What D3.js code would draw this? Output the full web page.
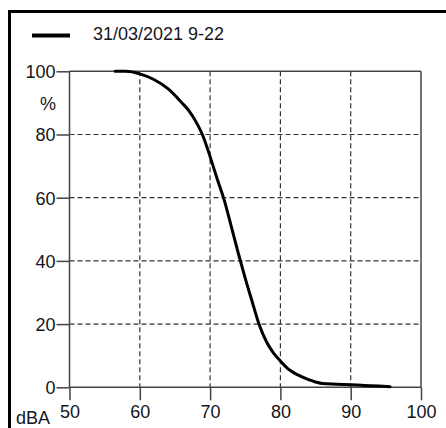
<!DOCTYPE html>
<html>
<head>
<meta charset="utf-8">
<script src="https://cdn.jsdelivr.net/npm/d3@7"></script>
<style>
  html, body { margin: 0; padding: 0; background: #fff; }
  svg { display: block; }
  text { font-family: "Liberation Sans", Arial, sans-serif; fill: #151520; }
</style>
</head>
<body>
<svg id="chart" width="446" height="428"></svg>
<script>
// ---- data ----
const seriesName = "31/03/2021 9-22";
const levels = [56.5, 58, 60, 62, 64, 66, 67, 68, 68.9, 70, 71, 72, 73, 74, 75, 76, 77, 78, 79, 80, 81, 82, 83, 84, 85, 86, 88, 90, 92, 94, 95.6];
const percents = [100, 100, 99.2, 97.4, 94.5, 90, 87.5, 84, 80, 73, 66, 59.3, 51, 42.5, 34.5, 27, 19.7, 14.5, 10.9, 8.3, 6.0, 4.5, 3.4, 2.4, 1.7, 1.2, 1.0, 0.8, 0.6, 0.4, 0.2];
const xTicks = [50, 60, 70, 80, 90, 100];
const yTicks = [0, 20, 40, 60, 80, 100];
const xUnit = "dBA";
const yUnit = "%";

// ---- layout ----
const svg = d3.select("#chart");
const x = d3.scaleLinear().domain([50, 100]).range([69.5, 421]);
const y = d3.scaleLinear().domain([0, 100]).range([387.3, 71.3]);

// outer frame (extends beyond right/bottom)
svg.append("rect")
  .attr("x", 9.5).attr("y", 11.5)
  .attr("width", 460).attr("height", 440)
  .attr("fill", "none").attr("stroke", "#000").attr("stroke-width", 3);

// legend
svg.append("line")
  .attr("x1", 32).attr("x2", 70).attr("y1", 35.5).attr("y2", 35.5)
  .attr("stroke", "#000").attr("stroke-width", 4);
svg.append("text")
  .attr("x", 93).attr("y", 39.5)
  .attr("font-size", 18)
  .text(seriesName);

// grid lines
const g = svg.append("g");
g.selectAll(".vgrid").data(xTicks.filter(d => d > 50 && d < 100)).join("line")
  .attr("x1", d => x(d)).attr("x2", d => x(d))
  .attr("y1", y(100)).attr("y2", y(0))
  .attr("stroke", "#333").attr("stroke-width", 1.2).attr("stroke-dasharray", "5,3");
g.selectAll(".hgrid").data(yTicks.filter(d => d > 0 && d < 100)).join("line")
  .attr("x1", x(50)).attr("x2", x(100))
  .attr("y1", d => y(d)).attr("y2", d => y(d))
  .attr("stroke", "#333").attr("stroke-width", 1.2).attr("stroke-dasharray", "5,3");

// plot border: top, right
const frameColor = "#444";
svg.append("line").attr("x1", x(50)).attr("x2", x(100)).attr("y1", y(100)).attr("y2", y(100))
  .attr("stroke", frameColor).attr("stroke-width", 1.5);
svg.append("line").attr("x1", x(100)).attr("x2", x(100)).attr("y1", y(100)).attr("y2", y(0))
  .attr("stroke", frameColor).attr("stroke-width", 1.5);

// axes via d3
const xAxis = d3.axisBottom(x).tickValues(xTicks).tickSize(13).tickPadding(4).tickFormat(d3.format("d"));
const yAxis = d3.axisLeft(y).tickValues(yTicks).tickSize(13).tickPadding(1).tickFormat(d3.format("d"));

const gx = svg.append("g").attr("transform", `translate(0,${y(0)})`).call(xAxis);
const gy = svg.append("g").attr("transform", `translate(${x(50)},0)`).call(yAxis);
[gx, gy].forEach(a => {
  a.select(".domain").attr("stroke", frameColor).attr("stroke-width", 1.5);
  a.selectAll(".tick line").attr("stroke", frameColor).attr("stroke-width", 1.5);
  a.selectAll(".tick text").attr("font-size", 18).attr("fill", "#151520")
    .attr("font-family", "'Liberation Sans', Arial, sans-serif");
});
gx.select(".domain").attr("d", `M${x(50)},0H${x(100)}`);
gy.select(".domain").attr("d", `M0,${y(0)}V${y(100)}`);
gx.selectAll(".tick text").attr("dy", "0.78em");
gy.selectAll(".tick text").attr("dy", "0.36em");

// unit labels
svg.append("text").attr("x", 56).attr("y", 110).attr("text-anchor", "end")
  .attr("font-size", 18).text(yUnit);
svg.append("text").attr("x", 16).attr("y", 423.5)
  .attr("font-size", 18).text(xUnit);

// curve
const pts = levels.map((l, i) => [l, percents[i]]);
const line = d3.line().x(d => x(d[0])).y(d => y(d[1])).curve(d3.curveMonotoneX);
svg.append("path").datum(pts)
  .attr("d", line)
  .attr("fill", "none").attr("stroke", "#000").attr("stroke-width", 3)
  .attr("stroke-linejoin", "round").attr("stroke-linecap", "round");
</script>
</body>
</html>
